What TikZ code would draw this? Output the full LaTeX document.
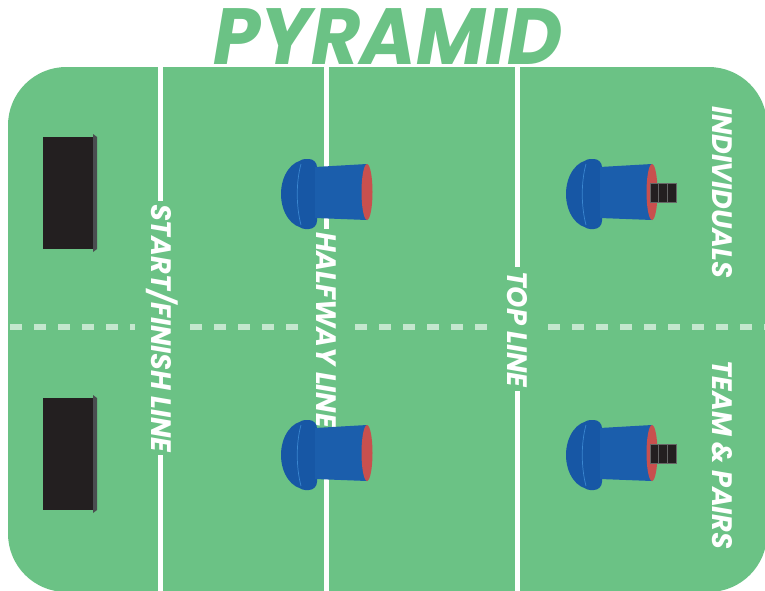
\documentclass[tikz,border=0pt]{standalone}
\usepackage{fontspec}
\setmainfont{Poppins}[BoldFeatures={FakeBold=1.2}]
\newfontfamily\titelfont{Poppins}[FakeStretch=0.95, BoldFeatures={FakeBold=2}]
\newfontfamily\labelfont{Poppins}[FakeStretch=0.96, BoldFeatures={FakeBold=1.5}]

\definecolor{rasen}{HTML}{6BC285}
\definecolor{kegelblau}{HTML}{1B5EAC}
\definecolor{kegeldunkel}{HTML}{1757A5}
\definecolor{kegelhell}{HTML}{3A86D0}
\definecolor{kegelrot}{HTML}{C8504E}
\definecolor{torschwarz}{HTML}{231F20}
\definecolor{torgrau}{HTML}{4A4D50}

\tikzset{
	linie/.style={white, line width=0.15cm},
	strich/.style={white!60!rasen, line width=0.16cm, dash pattern=on 0.36cm off 0.36cm},
	beschriftung/.style={fill=rasen, text=white, inner sep=3pt, rotate=-90,
		font=\labelfont\bfseries\itshape\fontsize{24}{24}\selectfont},
	pics/kegel/.style={code={
		\fill[kegeldunkel] (-62,36) arc[start angle=90, end angle=270, x radius=24, y radius=34] -- cycle;
		\fill[kegeldunkel, rounded corners=7pt] (-70,-33) rectangle (-50,37);
		\draw[kegelhell, line width=0.6pt] (-66,-28) .. controls (-71,-10) and (-71,14) .. (-66,33);
		\fill[kegelblau] (-52,-25) -- (0,-28) -- (0,28) -- (-52,26) -- cycle;
		\fill[kegelrot] (0,0) ellipse[x radius=5.5, y radius=28];
	}},
	pics/stapel/.style={code={
		\foreach \i in {0,1,2}
			\draw[fill=torschwarz, draw=gray!80!black, line width=0.5pt] ({-2+\i*8.7},-9) rectangle ++(8.7,19);
	}},
}

\begin{document}
\begin{tikzpicture}[x=0.03cm, y=-0.03cm]
	\useasboundingbox (0,0) rectangle (765,590);

	%Feld
	\fill[rasen, rounded corners=1.75cm] (8,67) rectangle (767,592);
	\node[text=rasen, anchor=base, font=\titelfont\bfseries\itshape\fontsize{68}{68}\selectfont] (titel) at (388,64) {PYRAMID};

	%Linien
	\foreach \x in {160, 326, 517}
		\draw[linie] (\x,67) -- (\x,592);
	\foreach \a/\b in {10/135, 190/300, 355/490, 548/767}
		\draw[strich] (\a,327) -- (\b,327);

	\node[beschriftung] (start) at (162,328) {START/FINISH LINE};
	\node[beschriftung] (halb) at (326,330) {HALFWAY LINE};
	\node[beschriftung] (oben) at (517,329) {TOP LINE};
	\node[beschriftung] (einzel) at (722,192) {INDIVIDUALS};
	\node[beschriftung] (team) at (722,455) {TEAM \& PAIRS};

	%Tore
	\foreach \y in {137, 398} {
		\fill[torgrau] (93,\y-3) -- (97,\y) -- (97,\y+112) -- (93,\y+115) -- cycle;
		\fill[torschwarz] (43,\y) rectangle (93,\y+112);
	}

	%Kegel
	\foreach \y in {192, 453} {
		\pic at (367,\y) {kegel};
		\pic at (652,\y) {kegel};
		\pic at (652,\y) {stapel};
	}
\end{tikzpicture}
\end{document}
